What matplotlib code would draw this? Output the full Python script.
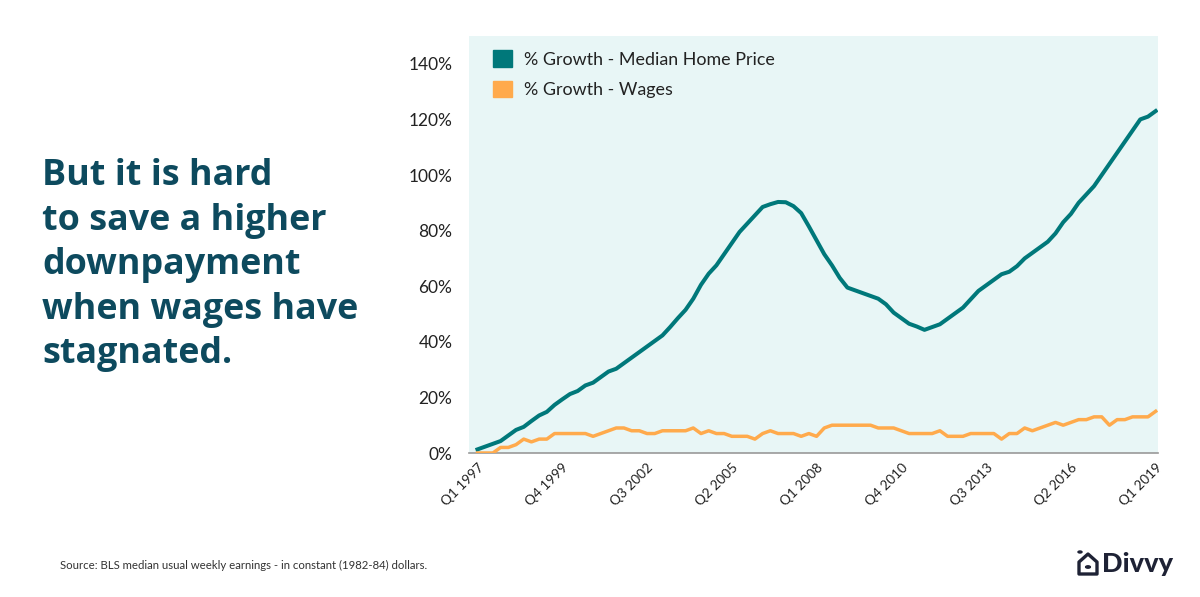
import matplotlib
matplotlib.use("Agg")
import matplotlib.pyplot as plt
from matplotlib.patches import Patch, Polygon, Circle
import numpy as np

quarters = [f"Q{(i % 4) + 1} {1997 + i // 4}" for i in range(89)]
tick_idx = [0, 11, 22, 33, 44, 55, 66, 77, 88]
tick_labels = [quarters[i] for i in tick_idx]

home_price = [1.3, 2.3, 3.3, 4.3, 6.3, 8.3, 9.4, 11.5, 13.5, 14.8,
              17.3, 19.3, 21.2, 22.3, 24.3, 25.3, 27.3, 29.3, 30.3, 32.3,
              34.3, 36.3, 38.3, 40.3, 42.3, 45.3, 48.5, 51.5, 55.5, 60.5,
              64.5, 67.5, 71.5, 75.5, 79.5, 82.5, 85.5, 88.5, 89.5, 90.3,
              90.2, 88.8, 86.3, 81.5, 76.5, 71.5, 67.5, 63.0, 59.5, 58.5,
              57.5, 56.5, 55.5, 53.5, 50.5, 48.5, 46.5, 45.5, 44.3, 45.3,
              46.3, 48.3, 50.3, 52.3, 55.3, 58.3, 60.3, 62.3, 64.3, 65.2,
              67.2, 70.0, 72.0, 74.0, 76.0, 79.0, 83.0, 86.0, 90.0, 93.0,
              96.0, 100.0, 104.0, 108.0, 112.0, 116.0, 120.0, 121.0, 123.0]

wages = [0, 0, 0, 2, 2, 3, 5, 4, 5, 5,
         7, 7, 7, 7, 7, 6, 7, 8, 9, 9,
         8, 8, 7, 7, 8, 8, 8, 8, 9, 7,
         8, 7, 7, 6, 6, 6, 5, 7, 8, 7,
         7, 7, 6, 7, 6, 9, 10, 10, 10, 10,
         10, 10, 9, 9, 9, 8, 7, 7, 7, 7,
         8, 6, 6, 6, 7, 7, 7, 7, 5, 7,
         7, 9, 8, 9, 10, 11, 10, 11, 12, 12,
         13, 13, 10, 12, 12, 13, 13, 13, 15]

yticks = [0, 20, 40, 60, 80, 100, 120, 140]

title_lines = ["But it is hard", "to save a higher", "downpayment",
               "when wages have", "stagnated."]

TEAL = "#00787A"
ORANGE = "#FFAA4C"
BG = "#E8F6F6"
TITLE = "#0D4A5E"

plt.rcParams['font.family'] = ['Lato', 'DejaVu Sans']

fig = plt.figure(figsize=(12, 5.97), dpi=100)
fig.patch.set_facecolor("white")
ax = fig.add_axes([469/1200, 1 - 453/597, (1158-469)/1200, (453-36)/597])
ax.set_facecolor(BG)

x = np.arange(len(quarters))
ax.plot(x, home_price, color=TEAL, lw=2.9, solid_joinstyle='round', zorder=3)
ax.plot(x, wages, color=ORANGE, lw=2.5, solid_joinstyle='round', zorder=3)

ax.set_xlim(-1.1, 88.3)
ax.set_ylim(0, 150)
ax.set_yticks(yticks)
ax.set_yticklabels([f"{v}%" for v in yticks], fontsize=12.5, color="#222222")
ax.set_xticks(tick_idx)
ax.set_xticklabels(tick_labels, rotation=45, ha='right', rotation_mode='anchor',
                   fontsize=9.8, color="#222222")
ax.tick_params(axis='both', length=0)
ax.tick_params(axis='y', pad=12)
ax.tick_params(axis='x', pad=6)
for s in ['top', 'right', 'left']:
    ax.spines[s].set_visible(False)
ax.spines['bottom'].set_color("#999999")
ax.spines['bottom'].set_linewidth(1.2)

handles = [Patch(facecolor=TEAL, edgecolor=TEAL, label="% Growth - Median Home Price"),
           Patch(facecolor=ORANGE, edgecolor=ORANGE, label="% Growth - Wages")]
leg = ax.legend(handles=handles, loc='upper left', bbox_to_anchor=(0.012, 1.004),
                frameon=False, fontsize=12.9, handlelength=1.05, handleheight=1.05,
                handletextpad=0.65, labelspacing=0.72, labelcolor="#222222")

baselines = [185, 229.5, 274, 318.5, 363]
for line, yb in zip(title_lines, baselines):
    fig.text(42/1200, 1 - yb/597, line, fontsize=25.8, fontweight='bold',
             family=['Open Sans', 'DejaVu Sans'],
             color=TITLE, va='baseline', ha='left')

fig.text(60/1200, 1 - 565/597,
         "Source: BLS median usual weekly earnings - in constant (1982-84) dollars.",
         fontsize=8.2, color="#333333", va='center', ha='left')

# Divvy logo
fig.text(1102/1200, 1 - 564/597, "Divvy", fontsize=19.5, fontweight='black',
         color="#1E2235", va='center', ha='left')
hx, hy = 1079, 566
house = Polygon([[ (hx)/1200, 1-(hy+8)/597 ], [ (hx+18)/1200, 1-(hy+8)/597 ],
                 [ (hx+18)/1200, 1-(hy-4)/597 ], [ (hx+9)/1200, 1-(hy-12)/597 ],
                 [ (hx)/1200, 1-(hy-4)/597 ]],
                closed=True, transform=fig.transFigure, fill=False,
                edgecolor="#1E2235", lw=2.4, joinstyle='round')
fig.patches.append(house)
fig.patches.append(Circle(((hx+9)/1200, 1-(hy+1)/597), 2.4/1200,
                          transform=fig.transFigure, color="#1E2235"))
fig.patches.append(Circle(((hx+1)/1200, 1-(hy-14)/597), 2.0/1200,
                          transform=fig.transFigure, color="#1E2235"))

fig.savefig("out.png", dpi=100, facecolor="white")
